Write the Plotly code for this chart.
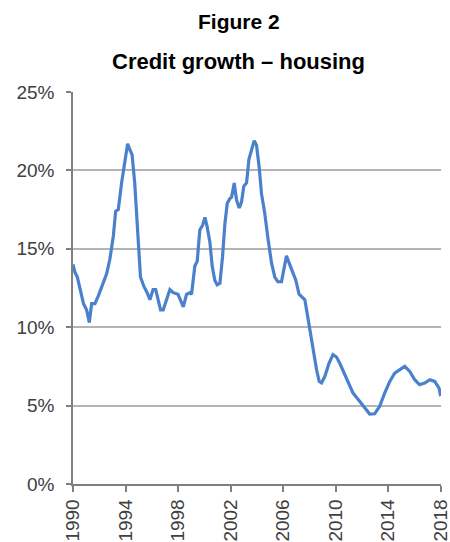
import plotly.graph_objects as go

years = [1990.0, 1990.15, 1990.33, 1990.53, 1990.8, 1991.04, 1991.24, 1991.42, 1991.67, 1991.93,
         1992.3, 1992.56, 1992.8, 1993.07, 1993.25, 1993.45, 1993.7, 1993.96, 1994.16, 1994.34,
         1994.5, 1994.7, 1994.9, 1995.14, 1995.4, 1995.65, 1995.86, 1996.1, 1996.3, 1996.5,
         1996.67, 1996.87, 1997.13, 1997.38, 1997.63, 1998.0, 1998.4, 1998.65, 1998.9, 1999.03,
         1999.28, 1999.46, 1999.66, 1999.87, 2000.05, 2000.22, 2000.43, 2000.6, 2000.8, 2000.98,
         2001.19, 2001.39, 2001.57, 2001.75, 2001.95, 2002.08, 2002.28, 2002.46, 2002.66, 2002.84,
         2003.01, 2003.22, 2003.4, 2003.6, 2003.8, 2003.98, 2004.18, 2004.36, 2004.6, 2004.86,
         2005.12, 2005.37, 2005.6, 2005.88, 2006.13, 2006.26, 2006.46, 2006.72, 2006.97, 2007.22,
         2007.48, 2007.66, 2007.83, 2008.04, 2008.29, 2008.55, 2008.75, 2008.93, 2009.18, 2009.5,
         2009.8, 2010.07, 2010.32, 2010.63, 2010.95, 2011.33, 2011.71, 2012.0, 2012.22, 2012.6,
         2012.98, 2013.36, 2013.74, 2014.13, 2014.5, 2014.89, 2015.27, 2015.65, 2016.03, 2016.4,
         2016.79, 2017.17, 2017.55, 2017.88, 2018.0]

growth = [14.0, 13.5, 13.2, 12.4, 11.5, 11.1, 10.3, 11.5, 11.5, 12.0,
          12.8, 13.4, 14.3, 15.8, 17.4, 17.5, 19.2, 20.7, 21.7, 21.3,
          21.0, 19.2, 16.6, 13.2, 12.6, 12.2, 11.75, 12.4, 12.4, 11.75,
          11.1, 11.1, 11.75, 12.4, 12.2, 12.1, 11.3, 12.1, 12.2, 12.1,
          13.9, 14.2, 16.2, 16.5, 17.0, 16.4, 15.4, 13.9, 13.0, 12.7,
          12.8, 14.5, 16.6, 17.9, 18.2, 18.3, 19.2, 18.1, 17.6, 18.0,
          19.0, 19.2, 20.7, 21.3, 21.9, 21.6, 20.2, 18.5, 17.3, 15.6,
          14.1, 13.2, 12.9, 12.9, 14.1, 14.55, 14.1, 13.55, 13.0, 12.1,
          11.85, 11.75, 10.9, 9.85, 8.35, 7.3, 6.55, 6.45, 6.85, 7.7,
          8.25, 8.1, 7.7, 7.1, 6.45, 5.8, 5.4, 5.1, 4.84, 4.46,
          4.48, 4.95, 5.8, 6.54, 7.07, 7.28, 7.5, 7.18, 6.65, 6.33,
          6.44, 6.65, 6.54, 6.12, 5.6]

x_ticks = [1990, 1994, 1998, 2002, 2006, 2010, 2014, 2018]
y_ticks = [0, 5, 10, 15, 20, 25]
y_labels = ["0%", "5%", "10%", "15%", "20%", "25%"]

FONT = "Arial, Liberation Sans, sans-serif"

fig = go.Figure()
fig.add_trace(go.Scatter(x=years, y=growth, mode="lines", cliponaxis=False,
                         line=dict(color="#4a80cc", width=3.2), hoverinfo="skip"))

fig.update_layout(
    width=450, height=542,
    margin=dict(l=73, r=9, t=92, b=58, autoexpand=False),
    paper_bgcolor="white", plot_bgcolor="white",
    showlegend=False,
    font=dict(family=FONT, color="#404040"),
    annotations=[
        dict(text="<b>Figure 2</b>", xref="paper", yref="paper", x=0.451, y=1 + (92 - 22) / 392,
             xanchor="center", yanchor="middle", showarrow=False,
             font=dict(family=FONT, size=21, color="black")),
        dict(text="<b>Credit growth – housing</b>", xref="paper", yref="paper", x=0.451,
             y=1 + (92 - 61) / 392, xanchor="center", yanchor="middle", showarrow=False,
             font=dict(family=FONT, size=22, color="black")),
    ],
)

fig.update_xaxes(range=[1990, 2018.03], tickmode="array", tickvals=x_ticks,
                 ticktext=[str(t) for t in x_ticks], tickangle=-90, automargin=False,
                 ticklabeloverflow="allow",
                 ticks="outside", ticklen=6, tickcolor="#808080", tickwidth=1.5,
                 showline=True, linecolor="#808080", linewidth=1.5,
                 showgrid=False, zeroline=False,
                 tickfont=dict(size=19, color="#404040"))

fig.update_yaxes(range=[0, 25], tickmode="array", tickvals=y_ticks, ticktext=y_labels,
                 automargin=False,
                 ticks="outside", ticklen=5, tickcolor="#808080", tickwidth=1.5,
                 showline=True, linecolor="#808080", linewidth=1.5,
                 showgrid=True, gridcolor="#b4b4b4", gridwidth=1.5, zeroline=False,
                 tickfont=dict(size=19, color="#404040"), ticklabelstandoff=8)

fig.write_html("out.html", config={"displayModeBar": False},
               post_script="document.body.style.margin='0';document.body.style.overflow='hidden';")
